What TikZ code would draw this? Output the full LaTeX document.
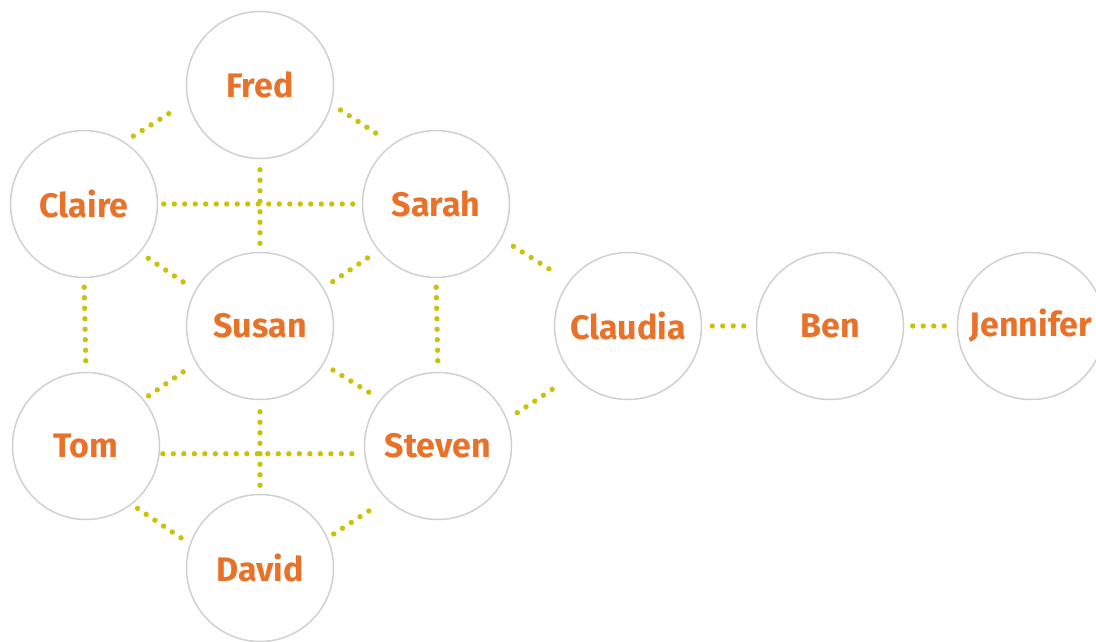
\documentclass[tikz,border=0pt]{standalone}
\usepackage{fontspec}
\setmainfont{Fira Sans}
\definecolor{nameorange}{HTML}{E8722A}
\definecolor{dotgreen}{HTML}{C8C20A}
\definecolor{ringgray}{HTML}{D0D0D0}
\tikzset{
    person/.style={circle, draw=ringgray, fill=white, line width=1.5pt,
        minimum size=147pt, inner sep=0pt, text=nameorange,
        font=\fontsize{34}{34}\selectfont\bfseries},
    link/.style={dotgreen, line width=5.4pt, line cap=round,
        dash pattern=on 0pt off 10.5pt, shorten <=8pt, shorten >=8pt}
}

\begin{document}
\begin{tikzpicture}[x=1pt, y=-1pt]
  \useasboundingbox (0,0) rectangle (1096,642);

  \node (fred) [person] at (260, 85) {Fred};
  \node (claire) [person] at (84, 204) {Claire};
  \node (sarah) [person] at (436, 204) {Sarah};
  \node (susan) [person] at (260, 326) {Susan};
  \node (tom) [person] at (86, 446) {Tom};
  \node (steven) [person] at (438, 446) {Steven};
  \node (david) [person] at (260, 568) {David};
  \node (claudia) [person] at (628, 326) {Claudia};
  \node (ben) [person] at (830, 326) {Ben};
  \node (jennifer) [person] at (1031, 326) {Jennifer};

  % outer ring
  \draw [link, shorten <=10.5pt, shorten >=13pt] (claire.57) -- (fred.193);
  \draw [link, shorten <=10.5pt, shorten >=10pt] (fred.345) -- (sarah.126);
  \draw [link, shorten <=7pt, shorten >=10pt] (tom.308) -- (david.161);
  \draw [link, shorten <=7pt, shorten >=11pt] (david.24) -- (steven.226);
  \draw [link, shorten <=9pt, shorten >=6pt] (claire.south) -- (tom.north);
  \draw [link, shorten <=9pt, shorten >=6pt] (sarah.south) -- (steven.north);

  % spokes to the middle
  \draw [link, shorten <=10pt, shorten >=14pt] (claire.319) -- (susan.151);
  \draw [link, shorten <=11pt, shorten >=11pt] (susan.31) -- (sarah.219);
  \draw [link, shorten <=6pt, shorten >=14pt] (tom.39) -- (susan.210);
  \draw [link, shorten <=11pt, shorten >=11pt] (susan.329) -- (steven.141);

  % the two crosses
  \draw [link, shorten <=5.5pt, shorten >=5.5pt] (claire.east) -- (sarah.west);
  \draw [link, shorten <=10.5pt, shorten >=7.5pt] (fred.south) -- (susan.north);
  \draw [link, shorten <=3pt, shorten >=3pt] (tom.-6) -- (steven.186);
  \draw [link, shorten <=11.5pt, shorten >=7.5pt] (susan.south) -- (david.north);

  % the tail
  \draw [link, shorten <=14pt, shorten >=13pt] (sarah.332) -- (claudia.143);
  \draw [link, shorten <=12pt, shorten >=14.5pt] (steven.21) -- (claudia.222);
  \draw [link, shorten <=10pt, shorten >=8.5pt] (claudia) -- (ben);
  \draw [link, shorten <=8.5pt, shorten >=9.5pt] (ben) -- (jennifer);
\end{tikzpicture}
\end{document}
